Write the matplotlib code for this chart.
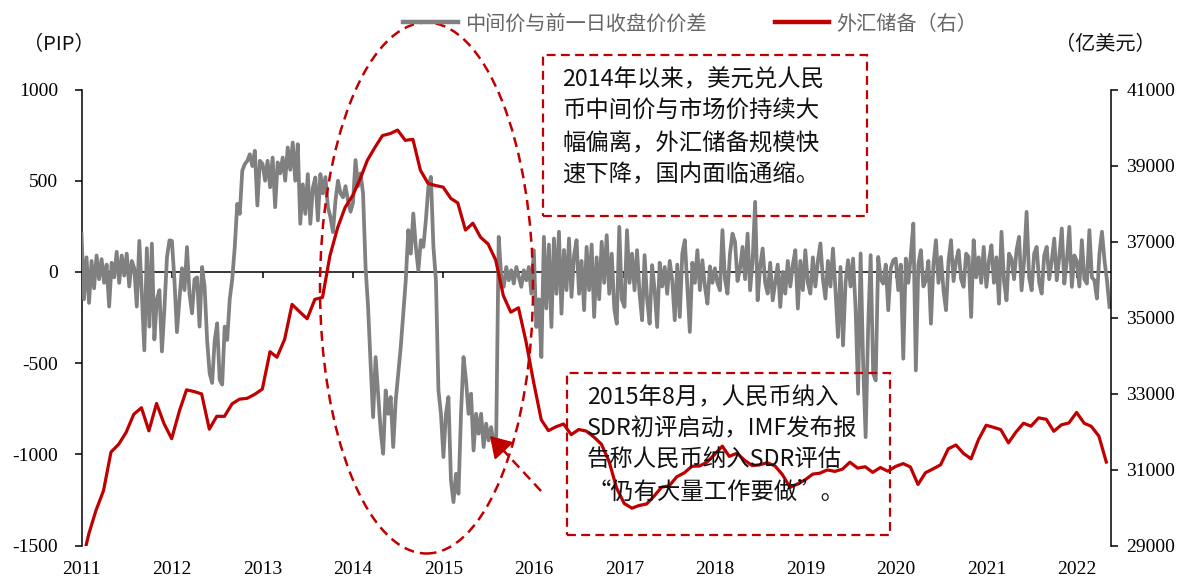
import numpy as np
import pandas as pd
import matplotlib
matplotlib.use("Agg")
import matplotlib.pyplot as plt
from matplotlib.patches import Ellipse, Rectangle, FancyArrowPatch
from matplotlib.lines import Line2D
from matplotlib.markers import TICKDOWN

plt.rcParams["font.family"] = ["Noto Sans CJK SC", "DejaVu Sans"]

# ---------------------------------------------------------------- data
# China FX reserves (100 million USD), month-end, Dec 2010 .. Apr 2022
reserves = [
    28473,
    29316, 29914, 30447, 31458, 31663, 31975, 32453, 32625, 32017, 32738, 32209, 31811,
    32536, 33096, 33050, 32989, 32061, 32400, 32399, 32729, 32851, 32874, 32977, 33116,
    34100, 33954, 34426, 35345, 35148, 34967, 35478, 35530, 36627, 37363, 37895, 38213,
    38666, 39137, 39481, 39788, 39839, 39932, 39662, 39688, 38877, 38529, 38473, 38430,
    38134, 38015, 37301, 37481, 37111, 36938, 36513, 35574, 35141, 35255, 34383, 33304,
    32309, 32023, 32126, 32197, 31917, 32052, 32011, 31852, 31664, 31207, 30516, 30105,
    29982, 30051, 30091, 30295, 30536, 30568, 30807, 30915, 31085, 31092, 31193, 31399,
    31615, 31345, 31428, 31249, 31106, 31121, 31179, 31097, 30870, 30531, 30617, 30727,
    30879, 30902, 30988, 30950, 31010, 31192, 31037, 31072, 30924, 31052, 30956, 31079,
    31155, 31067, 30606, 30915, 31017, 31123, 31544, 31646, 31426, 31280, 31785, 32165,
    32107, 32050, 31701, 31982, 32218, 32140, 32359, 32321, 32006, 32176, 32224, 32502,
    32216, 32138, 31880, 31197,
]
reserves_first_month = "2010-12-31"

# USD/CNY central parity minus previous close (PIP), 36 samples per year
pip_2011 = [210, -150, 80, -170, 60, -90, 90, -40, 70, -60, 40, -190, 50, -30, 110, -60, 90, -20,
            100, -80, 60, 20, -190, 170, -120, -430, 130, -300, 155, -370, -150, -100, -436, -200, 80, 173]
pip_2012 = [170, -45, -330, -150, 20, -100, 136, -120, -227, -40, -30, -300, 27, -80, -373, -555, -609, -380,
            -282, -591, -618, -300, -373, -150, -40, 136, 373, 318, 555, 591, 609, 645, 580, 664, 364, 609]
pip_2013 = [591, 500, 609, 464, 627, 355, 600, 540, 627, 500, 682, 560, 709, 500, 700, 264, 480, 318,
            536, 264, 460, 518, 282, 536, 430, 520, 355, 300, 218, 390, 500, 430, 409, 470, 390, 330]
pip_2014 = [380, 613, 470, 540, 430, 27, -192, -503, -796, -467, -668, -869, -997, -650, -778, -686, -960, -704,
            -558, -412, -229, -46, 229, 100, 320, 137, 9, 174, 137, 284, 467, 521, 137, -46, -650, -778]
pip_2015 = [-1015, -778, -686, -1143, -1262, -1107, -1216, -778, -467, -595, -778, -668, -979, -778, -887, -778, -960, -832,
            -924, -851, -942, -906, 192, -27, -82, 27, -46, 9, -64, 27, -27, -82, 9, -46, 27, -119]
pip_2016 = [119, -302, -150, -467, 192, -200, 150, -302, 183, -120, 220, -229, 120, -100, 183, -137, 90, 174,
            -120, 60, -210, 137, -100, 150, -247, 80, -150, 165, -60, 201, -120, 100, -200, -284, 247, -150]
pip_2017 = [-192, 229, -60, 100, -101, 119, -120, -265, 92, -150, -284, 37, -100, -302, 50, -80, 27, -120,
            60, -46, -265, 40, -247, 100, 174, -80, -329, 50, -60, 119, -100, 64, -80, -174, 30, -60]
pip_2018 = [20, -60, -101, 229, -40, -119, 100, 210, 165, -50, 18, 137, -40, 210, -101, 60, 384, -156,
            30, 128, -60, -119, 50, -156, -60, 40, -192, 0, -119, 60, -80, 40, 119, -201, 60, -100]
pip_2019 = [119, -60, -119, 80, -80, 60, 156, -40, -146, 60, -80, 128, -100, -357, 27, -403, -60, 64,
            -80, 73, -200, -668, 101, -500, -906, -300, 92, -558, -595, 82, -40, -64, 40, -210, 20, 64]
pip_2020 = [73, -100, 40, -476, 73, -60, 92, 265, -540, 40, 119, -80, -46, 60, -284, 40, 174, -60,
            82, -100, -210, 60, 174, -50, 60, 119, -40, -82, 100, 82, -247, 174, -30, 80, -60, 137]
pip_2021 = [-82, 60, 146, -60, 80, -174, 220, -50, -156, 100, 73, -40, 120, 192, -101, 60, 329, -30,
            -101, 100, 137, -60, -119, 90, 137, -40, 60, 183, -46, 80, 238, -64, 60, 247, -82, 90]
pip_2022 = [60, -80, 174, -40, -64, 229, -30, -46, -146, 100, 220, 64, -46, -192]

pip_by_year = {2011: pip_2011, 2012: pip_2012, 2013: pip_2013, 2014: pip_2014, 2015: pip_2015,
               2016: pip_2016, 2017: pip_2017, 2018: pip_2018, 2019: pip_2019, 2020: pip_2020,
               2021: pip_2021, 2022: pip_2022}
samples_per_year = 36

year_labels = [str(y) for y in range(2011, 2023)]
left_ticks = [-1500, -1000, -500, 0, 500, 1000]
right_ticks = [29000, 31000, 33000, 35000, 37000, 39000, 41000]

legend_labels = ["中间价与前一日收盘价价差", "外汇储备（右）"]
note_2014 = ["2014年以来，美元兑人民",
             "币中间价与市场价持续大",
             "幅偏离，外汇储备规模快",
             "速下降，国内面临通缩。"]
note_2015 = ["2015年8月，人民币纳入",
             "SDR初评启动，IMF发布报",
             "告称人民币纳入SDR评估",
             "“仍有大量工作要做”。"]

# ---------------------------------------------------------------- series
pip_dates, pip_values = [], []
for year, vals in pip_by_year.items():
    start = pd.Timestamp(year=year, month=1, day=1)
    for i, v in enumerate(vals):
        pip_dates.append(start + pd.Timedelta(days=365.25 * i / samples_per_year))
        pip_values.append(v)

try:
    res_dates = pd.date_range(reserves_first_month, periods=len(reserves), freq="ME")
except ValueError:
    res_dates = pd.date_range(reserves_first_month, periods=len(reserves), freq="M")

year_ticks = [pd.Timestamp(year=int(y), month=1, day=1) for y in year_labels]

# ---------------------------------------------------------------- figure
W, H = 1185, 580
fig = plt.figure(figsize=(W / 100, H / 100), dpi=100)


def fx(px):
    return px / W


def fy(py):
    return 1 - py / H


GRAY = "#808080"
RED = "#C00000"
SERIF = "Liberation Serif"

ax = fig.add_axes([fx(81.5), fy(545.5), fx(1111) - fx(81.5), fy(89.5) - fy(545.5)])
ax.plot(pip_dates, pip_values, color=GRAY, lw=2.7, zorder=3)
ax.axhline(0, color="black", lw=1.1, zorder=2)
ax.plot(year_ticks, [0] * len(year_ticks), ls="none", marker=TICKDOWN, ms=4,
        mew=1.1, color="black", zorder=2)

ax.set_xlim(pd.Timestamp("2011-01-01"), pd.Timestamp("2022-05-19"))
ax.set_ylim(-1500, 1000)
ax.set_yticks(left_ticks)
ax.set_yticklabels([str(t) for t in left_ticks])
ax.set_xticks(year_ticks)
ax.set_xticklabels(year_labels)
ax.tick_params(axis="x", length=0, pad=11)
ax.tick_params(axis="y", direction="out", length=5, width=1.1, pad=12)
for lab in ax.get_xticklabels() + ax.get_yticklabels():
    lab.set_fontfamily(SERIF)
    lab.set_fontsize(14)
for s in ("top", "bottom", "right"):
    ax.spines[s].set_visible(False)
ax.spines["left"].set_linewidth(1.1)

ax2 = ax.twinx()
ax2.plot(res_dates, reserves, color=RED, lw=2.3, zorder=4)
ax2.set_ylim(29000, 41000)
ax2.set_yticks(right_ticks)
ax2.set_yticklabels([str(t) for t in right_ticks])
ax2.tick_params(axis="y", direction="out", length=5, width=1.1, pad=6)
for lab in ax2.get_yticklabels():
    lab.set_fontfamily(SERIF)
    lab.set_fontsize(14)
for s in ("top", "bottom", "left"):
    ax2.spines[s].set_visible(False)
ax2.spines["right"].set_linewidth(1.1)
ax2.set_xlim(ax.get_xlim())

# axis unit labels
fig.text(fx(59), fy(45), "（PIP）", ha="center", va="center", fontsize=14.5, color="#111111")
fig.text(fx(1105), fy(45), "（亿美元）", ha="center", va="center", fontsize=14.5, color="#111111")

# legend
handles = [Line2D([], [], color=GRAY, lw=3.2), Line2D([], [], color=RED, lw=3.2)]
fig.legend(handles, legend_labels, loc="center", bbox_to_anchor=(fx(690), fy(24)), ncol=2,
           frameon=False, fontsize=14.5, handlelength=2.7, handletextpad=0.35,
           columnspacing=3.4, labelcolor="#666666")

# annotations
dash = (0, (4, 2.4))
fig.add_artist(Ellipse((fx(426.5), fy(288)), 213 / W, 531 / H, transform=fig.transFigure,
                       fill=False, ec=RED, lw=1.8, ls=dash))
fig.add_artist(Rectangle((fx(543), fy(216)), fx(867) - fx(543), fy(55) - fy(216),
                         transform=fig.transFigure, fill=False, ec=RED, lw=1.6, ls=dash))
fig.add_artist(Rectangle((fx(567), fy(535)), fx(890) - fx(567), fy(373) - fy(535),
                         transform=fig.transFigure, fill=False, ec=RED, lw=1.6, ls=dash))

fig.add_artist(Line2D([fx(541), fx(503)], [fy(491), fy(450)], transform=fig.transFigure,
                      color=RED, lw=1.8, ls=dash))
fig.add_artist(FancyArrowPatch(
    (fx(505), fy(452)), (fx(490), fy(436)), transform=fig.transFigure,
    arrowstyle="-|>,head_length=0.8,head_width=0.5", mutation_scale=16,
    color=RED, lw=1.5, shrinkA=0, shrinkB=0))

for k, line in enumerate(note_2014):
    fig.text(fx(562), fy(80 + k * 31.7), line, ha="left", va="center",
             fontsize=16.8, color="#111111")
for k, line in enumerate(note_2015):
    fig.text(fx(587), fy(398 + k * 31.3), line, ha="left", va="center",
             fontsize=16.8, color="#111111")

fig.savefig("out.png", dpi=100)
